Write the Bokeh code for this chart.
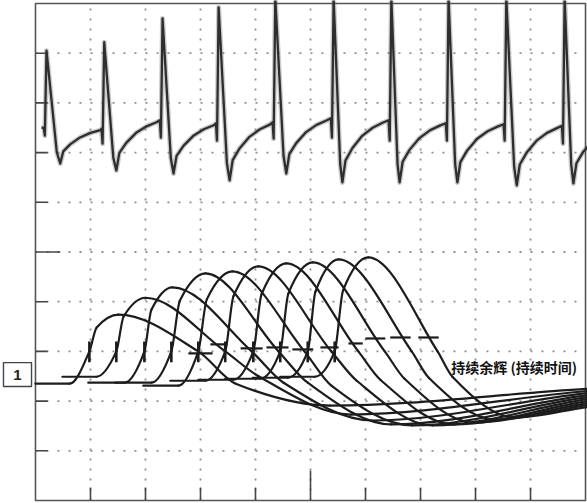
import numpy as np
from bokeh.plotting import figure
from bokeh.models import Range1d
from bokeh.embed import file_html
from bokeh.resources import INLINE
from bokeh.core.properties import value

# ---------------- data (screen divisions: x 0..10, y 0..10) ----------------
# upper trace: one entry per cycle
ecg_spike_x   = [0.20, 1.25, 2.31, 3.33, 4.36, 5.42, 6.47, 7.51, 8.56, 9.62]
ecg_plateau_y = [7.50, 7.48, 7.65, 7.59, 7.61, 7.69, 7.65, 7.59, 7.57, 7.54]
ecg_dip_y     = [7.34, 7.18, 7.30, 7.24, 7.28, 7.30, 7.24, 7.24, 7.24, 7.18]
ecg_peak_y    = [9.05, 9.22, 9.70, 9.92, 10.1, 10.1, 10.1, 10.1, 10.1, 10.1]
ecg_trough_x  = [0.45, 1.47, 2.51, 3.53, 4.56, 5.58, 6.62, 7.67, 8.75, 9.78]
ecg_trough_y  = [6.78, 6.64, 6.58, 6.44, 6.58, 6.40, 6.40, 6.40, 6.34, 6.38]

# lower traces: one entry per sweep
pulse_start_x  = [0.00, 0.49, 0.96, 1.45, 1.96, 2.45, 2.96, 3.45, 3.95, 4.45]
pulse_base_y   = [2.35, 2.49, 2.37, 2.37, 2.31, 2.41, 2.43, 2.45, 2.47, 2.49]
pulse_rise_x   = [0.98, 1.47, 1.98, 2.47, 2.96, 3.45, 3.96, 4.45, 4.95, 5.44]
pulse_peak_x   = [1.51, 2.00, 2.49, 3.09, 3.58, 4.05, 4.56, 5.04, 5.51, 6.05]
pulse_peak_y   = [3.74, 4.08, 4.29, 4.57, 4.61, 4.71, 4.77, 4.79, 4.85, 4.89]
pulse_fall_x   = [2.96, 3.45, 3.93, 4.42, 4.89, 5.38, 5.87, 6.35, 6.84, 7.31]
pulse_cross_x  = [3.64, 4.07, 4.51, 4.95, 5.38, 5.84, 6.27, 6.71, 7.15, 7.58]
pulse_trough_x = [5.36, 5.73, 6.11, 6.47, 6.85, 7.22, 7.60, 7.96, 8.35, 8.71]
pulse_trough_y = [1.91, 1.73, 1.61, 1.53, 1.51, 1.51, 1.53, 1.57, 1.63, 1.67]
pulse_end_y    = [2.25, 2.21, 2.17, 2.13, 2.09, 2.05, 2.01, 1.97, 1.93, 1.89]
rise_level = 3.0

# cursor dashes
dash_x0 = [2.78, 3.18, 3.73, 4.20, 4.67, 5.18, 5.69, 6.00, 6.45, 6.96]
dash_x1 = [3.22, 3.49, 4.13, 4.60, 5.05, 5.51, 5.95, 6.36, 6.82, 7.33]
dash_y  = [2.96, 3.14, 3.06, 3.08, 3.04, 3.08, 3.16, 3.26, 3.28, 3.28]

label_text = "持续余辉 (持续时间)"
channel_label = "1"

grid_x = [1, 2, 3, 4, 5, 6, 7, 8, 9]
grid_y = [1, 2, 3, 4, 5, 6, 7, 8, 9]

# ---------------- figure ----------------
p = figure(width=587, height=503, min_border=0, x_axis_type=None, y_axis_type=None,
           toolbar_location=None, output_backend="svg",
           x_range=Range1d(-0.636, 10.036), y_range=Range1d(-0.06, 10.06))
p.outline_line_color = None
p.background_fill_color = "white"
p.border_fill_color = "white"

# dotted graticule
p.segment(x0=[0] * 9, x1=[10] * 9, y0=grid_y, y1=grid_y,
          line_color="#8f8f8f", line_width=1.8, line_dash="2 9")
p.segment(x0=grid_x, x1=grid_x, y0=[0] * 9, y1=[10] * 9,
          line_color="#8f8f8f", line_width=1.8, line_dash="2 8")

# edge ticks
ly1 = [0.22] * 9
ly1[4] = 0.45
p.segment(x0=[0] * 9, x1=ly1, y0=grid_y, y1=grid_y, line_color="#444", line_width=1.6)
bt = [0.26] * 9
bt[4] = 0.6
p.segment(x0=grid_x, x1=grid_x, y0=[0] * 9, y1=bt, line_color="#444", line_width=1.6)

# frame
p.quad(left=[0], right=[10], bottom=[0], top=[10], fill_color=None,
       line_color="#555", line_width=1.6)

# ---------------- upper trace ----------------
n = len(ecg_spike_x)
ex, ey = [ecg_spike_x[0] - 0.09], [ecg_plateau_y[0]]
recov = [(0.055, 0.35), (0.18, 0.55), (0.36, 0.75), (0.55, 0.88), (0.73, 0.96)]
for i in range(n):
    s = ecg_spike_x[i]
    pk = ecg_peak_y[i]
    ex += [s - 0.05, s - 0.03, s]
    ey += [ecg_plateau_y[i], ecg_dip_y[i], pk]
    t, T = ecg_trough_x[i], ecg_trough_y[i]
    ex += [s + 0.75 * (t - s), t]
    ey += [pk + 0.9 * (T - pk), T]
    P = ecg_plateau_y[i + 1] if i + 1 < n else ecg_plateau_y[-1]
    for dx, f in recov:
        xx = t + dx
        if i + 1 < n and xx >= ecg_spike_x[i + 1] - 0.06:
            break
        ex.append(xx)
        ey.append(T + f * (P - T))

p.line(ex, ey, line_color="#6a6a6a", line_width=5, line_alpha=0.35, line_join="round")
p.line(ex, ey, line_color="#2e2e2e", line_width=2.3, line_join="round")

# ---------------- lower traces ----------------
def tangents(x, y, end_slope):
    h = np.diff(x)
    d = np.diff(y) / h
    m = np.zeros(len(x))
    for k in range(1, len(x) - 1):
        if d[k - 1] * d[k] <= 0:
            m[k] = 0.0
        else:
            w1 = 2 * h[k] + h[k - 1]
            w2 = h[k] + 2 * h[k - 1]
            m[k] = (w1 + w2) / (w1 / d[k - 1] + w2 / d[k])
    m[0] = 0.0
    m[-1] = d[-1] * end_slope
    return m

bx0, by0, bx1, by1, bcx0, bcy0, bcx1, bcy1 = ([] for _ in range(8))
for i in range(len(pulse_start_x)):
    b = pulse_base_y[i]
    rx = pulse_rise_x[i]
    pkx, pky = pulse_peak_x[i], pulse_peak_y[i]
    kx = [pulse_start_x[i], rx - 0.36, rx, rx + 0.25 * (pkx - rx), pkx,
          pulse_fall_x[i], pulse_cross_x[i], pulse_trough_x[i], 10.1]
    ky = [b, b, rise_level, rise_level + 0.65 * (pky - rise_level), pky,
          rise_level, b, pulse_trough_y[i], pulse_end_y[i]]
    kx = np.array(kx)
    ky = np.array(ky)
    m = tangents(kx, ky, 0.8)
    for k in range(len(kx) - 1):
        h = kx[k + 1] - kx[k]
        bx0.append(kx[k]); by0.append(ky[k])
        bx1.append(kx[k + 1]); by1.append(ky[k + 1])
        bcx0.append(kx[k] + h / 3); bcy0.append(ky[k] + m[k] * h / 3)
        bcx1.append(kx[k + 1] - h / 3); bcy1.append(ky[k + 1] - m[k + 1] * h / 3)

p.bezier(x0=bx0, y0=by0, x1=bx1, y1=by1, cx0=bcx0, cy0=bcy0, cx1=bcx1, cy1=bcy1,
         line_color="#1c1c1c", line_width=2.2, line_cap="round")

# cursor marks on rising edges and dashes
p.segment(x0=pulse_rise_x, x1=pulse_rise_x, y0=[2.78] * 10, y1=[3.2] * 10,
          line_color="#1c1c1c", line_width=2.6)
p.segment(x0=dash_x0, x1=dash_x1, y0=dash_y, y1=dash_y, line_color="#1c1c1c", line_width=2.2)

# label
p.text(x=[7.56], y=[2.68], text=[label_text], text_font=value("Noto Sans CJK SC"),
       text_font_size="14px", text_font_style="bold", text_baseline="middle",
       text_align="left", text_color="#111")

# channel marker box
p.rect(x=[-0.327], y=[2.535], width=0.51, height=0.48, fill_color="white",
       line_color="#444", line_width=1.4)
p.text(x=[-0.327], y=[2.535], text=[channel_label], text_font=value("Liberation Sans"),
       text_font_size="15px", text_font_style="bold", text_baseline="middle",
       text_align="center", text_color="#222")

open("out.html", "w").write(file_html(p, INLINE))
